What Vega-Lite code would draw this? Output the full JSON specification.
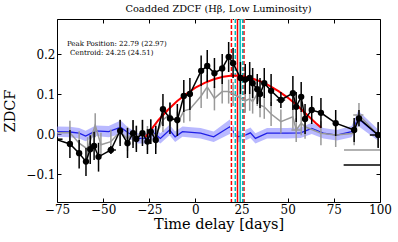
{
"$schema":"https://vega.github.io/schema/vega-lite/v6.json",
"width":323,"height":183,"autosize":"none",
"padding":{"left":57,"top":19,"right":18,"bottom":40},
"title":{"text":"Coadded ZDCF (Hβ, Low Luminosity)","font":"DejaVu Serif","fontSize":9.8,"fontWeight":"normal","color":"black","offset":4},
"config":{"view":{"stroke":"black","strokeWidth":1},
"scale":{"continuousPadding":0},
"axis":{"labelFont":"DejaVu Serif","titleFont":"DejaVu Serif","labelFontSize":12,"titleFontSize":14.5,"titleFontWeight":"normal","labelColor":"black","titleColor":"black","tickColor":"black","grid":false,"domain":false,"tickSize":-4,"tickWidth":1,"labelFlush":false,"labelOverlap":false}},
"datasets":{
"black":[
{"t":-76,"z":-0.013,"lo":-0.045,"hi":0.02},{"t":-68,"z":-0.025,"lo":-0.06,"hi":0.01},{"t":-63,"z":-0.048,"lo":-0.086,"hi":-0.015},{"t":-59.3,"z":-0.069,"lo":-0.105,"hi":-0.035},{"t":-57,"z":-0.038,"lo":-0.075,"hi":-0.003},{"t":-54.9,"z":-0.03,"lo":-0.065,"hi":0.005},{"t":-52.5,"z":-0.057,"lo":-0.094,"hi":-0.022},{"t":-45.8,"z":-0.04,"lo":-0.05,"hi":-0.03},{"t":-40.8,"z":0.008,"lo":-0.03,"hi":0.035},{"t":-36.8,"z":-0.023,"lo":-0.06,"hi":0.015},{"t":-33.8,"z":0.002,"lo":-0.035,"hi":0.035},{"t":-32,"z":-0.0125,"lo":-0.045,"hi":0.02},{"t":-28.7,"z":0.002,"lo":-0.03,"hi":0.035},{"t":-26,"z":-0.019,"lo":-0.05,"hi":0.012},{"t":-24.2,"z":0.006,"lo":-0.025,"hi":0.037},{"t":-21.5,"z":-0.015,"lo":-0.05,"hi":0.02},{"t":-17.6,"z":0.062,"lo":0.02,"hi":0.1},{"t":-13.8,"z":0.039,"lo":0.0,"hi":0.078},{"t":-9.8,"z":0.035,"lo":-0.005,"hi":0.075},{"t":-6.3,"z":0.095,"lo":0.055,"hi":0.135},{"t":-3,"z":0.1,"lo":0.06,"hi":0.14},{"t":3.1,"z":0.158,"lo":0.12,"hi":0.196},{"t":6.4,"z":0.17,"lo":0.13,"hi":0.21},{"t":10.3,"z":0.152,"lo":0.115,"hi":0.19},{"t":14.5,"z":0.164,"lo":0.125,"hi":0.2},{"t":18,"z":0.193,"lo":0.155,"hi":0.23},{"t":20.4,"z":0.177,"lo":0.14,"hi":0.215},{"t":24.4,"z":0.14,"lo":0.1,"hi":0.18},{"t":27,"z":0.136,"lo":0.1,"hi":0.175},{"t":29.4,"z":0.14,"lo":0.1,"hi":0.18},{"t":31,"z":0.127,"lo":0.09,"hi":0.165},{"t":33.5,"z":0.112,"lo":0.075,"hi":0.15},{"t":35,"z":0.1,"lo":0.065,"hi":0.14},{"t":37.3,"z":0.127,"lo":0.09,"hi":0.165},{"t":41,"z":0.108,"lo":0.07,"hi":0.15},{"t":46.3,"z":0.085,"lo":0.065,"hi":0.105},{"t":52.8,"z":0.102,"lo":0.06,"hi":0.145},{"t":54.6,"z":0.068,"lo":0.03,"hi":0.105},{"t":57.3,"z":0.093,"lo":0.055,"hi":0.13},{"t":59.4,"z":0.0375,"lo":0.0,"hi":0.075},{"t":63,"z":0.06,"lo":0.025,"hi":0.095},{"t":68,"z":0.053,"lo":0.015,"hi":0.09},{"t":76,"z":0.027,"lo":-0.005,"hi":0.06},{"t":86,"z":0.01,"lo":-0.02,"hi":0.04},{"t":88.6,"z":0.039,"lo":0.02,"hi":0.06},{"t":99,"z":-0.0025,"lo":-0.035,"hi":0.03}],
"gray":[
{"t":-76,"z":0.003,"lo":-0.027,"hi":0.033},{"t":-68,"z":0.003,"lo":-0.027,"hi":0.033},{"t":-63,"z":-0.023,"lo":-0.053,"hi":0.007},{"t":-58.4,"z":-0.038,"lo":-0.068,"hi":-0.008},{"t":-54.3,"z":0.022,"lo":-0.008,"hi":0.052},{"t":-51.2,"z":-0.027,"lo":-0.057,"hi":0.003},{"t":-45.8,"z":-0.019,"lo":-0.049,"hi":0.011},{"t":-40.8,"z":0.006,"lo":-0.024,"hi":0.036},{"t":-36.8,"z":-0.012,"lo":-0.042,"hi":0.018},{"t":-33.8,"z":0.003,"lo":-0.027,"hi":0.033},{"t":-32,"z":-0.008,"lo":-0.038,"hi":0.022},{"t":-28.7,"z":0.006,"lo":-0.024,"hi":0.036},{"t":-26,"z":-0.01,"lo":-0.04,"hi":0.02},{"t":-24.2,"z":0.005,"lo":-0.025,"hi":0.035},{"t":-21.5,"z":-0.004,"lo":-0.034,"hi":0.026},{"t":-17.6,"z":0.035,"lo":0.005,"hi":0.065},{"t":-13.8,"z":0.05,"lo":0.02,"hi":0.08},{"t":-9.8,"z":0.026,"lo":-0.004,"hi":0.056},{"t":-6.3,"z":0.058,"lo":0.028,"hi":0.088},{"t":-3,"z":0.062,"lo":0.032,"hi":0.092},{"t":3.1,"z":0.095,"lo":0.065,"hi":0.125},{"t":6.4,"z":0.118,"lo":0.088,"hi":0.148},{"t":10.3,"z":0.089,"lo":0.059,"hi":0.119},{"t":14.5,"z":0.106,"lo":0.076,"hi":0.136},{"t":18,"z":0.106,"lo":0.076,"hi":0.136},{"t":20.4,"z":0.1,"lo":0.07,"hi":0.13},{"t":24.4,"z":0.09,"lo":0.06,"hi":0.12},{"t":27,"z":0.083,"lo":0.053,"hi":0.113},{"t":29.4,"z":0.088,"lo":0.058,"hi":0.118},{"t":31,"z":0.081,"lo":0.051,"hi":0.111},{"t":33.5,"z":0.1,"lo":0.07,"hi":0.13},{"t":35,"z":0.072,"lo":0.042,"hi":0.102},{"t":37.3,"z":0.068,"lo":0.038,"hi":0.098},{"t":41,"z":0.05,"lo":0.02,"hi":0.08},{"t":46.3,"z":0.031,"lo":0.001,"hi":0.061},{"t":52.8,"z":0.043,"lo":0.013,"hi":0.073},{"t":54.6,"z":0.01,"lo":-0.02,"hi":0.04},{"t":57.3,"z":0.027,"lo":-0.003,"hi":0.057},{"t":59.4,"z":0.018,"lo":-0.012,"hi":0.048},{"t":68,"z":0.002,"lo":-0.028,"hi":0.032},{"t":76,"z":-0.0025,"lo":-0.0325,"hi":0.0275},{"t":86,"z":0.002,"lo":-0.028,"hi":0.032},{"t":88.6,"z":0.0475,"lo":0.0175,"hi":0.0775},{"t":99,"z":-0.0025,"lo":-0.0325,"hi":0.0275}],
"blue":[
{"t":-76,"z":0.006,"lo":-0.007,"hi":0.019},{"t":-68,"z":0.005,"lo":-0.008,"hi":0.018},{"t":-63,"z":0.002,"lo":-0.011,"hi":0.015},{"t":-59.5,"z":-0.005,"lo":-0.018,"hi":0.008},{"t":-54,"z":0.008,"lo":-0.005,"hi":0.021},{"t":-47,"z":0.006,"lo":-0.008,"hi":0.02},{"t":-40.5,"z":0.017,"lo":0.0,"hi":0.034},{"t":-36.5,"z":0.003,"lo":-0.01,"hi":0.016},{"t":-31,"z":-0.011,"lo":-0.024,"hi":0.002},{"t":-26,"z":-0.011,"lo":-0.024,"hi":0.002},{"t":-22.5,"z":0.002,"lo":-0.011,"hi":0.015},{"t":-19,"z":-0.011,"lo":-0.024,"hi":0.002},{"t":-14,"z":0.01,"lo":-0.003,"hi":0.023},{"t":-11,"z":-0.007,"lo":-0.02,"hi":0.006},{"t":-7,"z":0.006,"lo":-0.007,"hi":0.019},{"t":2.8,"z":0.002,"lo":-0.011,"hi":0.015},{"t":9.9,"z":-0.007,"lo":-0.02,"hi":0.006},{"t":18.6,"z":0.018,"lo":0.0,"hi":0.036},{"t":22.6,"z":-0.007,"lo":-0.021,"hi":0.007},{"t":27,"z":-0.003,"lo":-0.016,"hi":0.01},{"t":29.8,"z":0.003,"lo":-0.01,"hi":0.016},{"t":32.5,"z":-0.011,"lo":-0.024,"hi":0.002},{"t":38.8,"z":0.002,"lo":-0.011,"hi":0.015},{"t":49.6,"z":0.002,"lo":-0.011,"hi":0.015},{"t":57,"z":0.003,"lo":-0.01,"hi":0.016},{"t":63,"z":0.014,"lo":0.0,"hi":0.028},{"t":69.3,"z":0.002,"lo":-0.011,"hi":0.015},{"t":76.6,"z":-0.003,"lo":-0.016,"hi":0.01},{"t":84.6,"z":0.006,"lo":-0.008,"hi":0.02},{"t":88.2,"z":0.039,"lo":0.02,"hi":0.058},{"t":99,"z":-0.003,"lo":-0.017,"hi":0.011}],
"red":[
{"t":-27,"z":-0.007},{"t":-20,"z":0.035},{"t":-15,"z":0.06},{"t":-10,"z":0.082},{"t":-5,"z":0.1},{"t":0,"z":0.116},{"t":5,"z":0.128},{"t":10,"z":0.137},{"t":15,"z":0.143},{"t":20,"z":0.146},{"t":25,"z":0.145},{"t":30,"z":0.14},{"t":35,"z":0.132},{"t":40,"z":0.121},{"t":45,"z":0.107},{"t":50,"z":0.091},{"t":55,"z":0.072},{"t":60,"z":0.05},{"t":65,"z":0.028},{"t":68,"z":0.016}],
"xerrk":[
{"t0":-80,"t1":-72,"z":-0.013},{"t0":-47.6,"t1":-43.1,"z":-0.04},{"t0":44,"t1":48.6,"z":0.085},{"t0":94.5,"t1":104,"z":-0.0025},{"t0":80.3,"t1":104,"z":-0.0775}],
"xerrg":[
{"t0":80.5,"t1":104,"z":-0.04},{"t0":85.5,"t1":91,"z":0.0475},{"t0":52,"t1":57,"z":0.01}],
"vdash":[{"t":19.5,"k":"peak"},{"t":26.3,"k":"peak"},{"t":21.6,"k":"centroid"},{"t":25.6,"k":"centroid"}],
"vsolid":[{"t":22.79,"k":"peak"},{"t":24.25,"k":"centroid"}],
"notes":[{"t":-69.6,"z":0.225,"label":"Peak Position: 22.79 (22.97)"},{"t":-68,"z":0.2025,"label":"Centroid: 24.25 (24.51)"}]
},
"layer":[
{"data":{"name":"blue"},"mark":{"type":"area","color":"#7f7fff","opacity":0.55,"clip":true},
 "encoding":{"x":{"field":"t","type":"quantitative","scale":{"domain":[-75,100],"nice":false,"zero":false,"padding":0},
  "axis":{"orient":"bottom","values":[-75,-50,-25,0,25,50,75,100],"format":"d","title":"Time delay [days]","labelPadding":6,"titlePadding":2}},
  "y":{"field":"lo","type":"quantitative","scale":{"domain":[-0.17,0.2875],"nice":false,"zero":false,"padding":0},
  "axis":{"orient":"left","values":[-0.1,0,0.1,0.2],"format":".1f","title":"ZDCF","labelPadding":6,"titlePadding":8}},
  "y2":{"field":"hi"}}},
{"data":{"name":"blue"},"mark":{"type":"line","color":"#1f1fe6","strokeWidth":1.3,"clip":true},
 "encoding":{"x":{"field":"t","type":"quantitative","scale":{"domain":[-75,100],"nice":false,"zero":false,"padding":0},
  "axis":{"orient":"top","values":[-75,-50,-25,0,25,50,75,100],"labels":false,"title":null}},
  "y":{"field":"z","type":"quantitative","scale":{"domain":[-0.17,0.2875],"nice":false,"zero":false,"padding":0},
  "axis":{"orient":"right","values":[-0.1,0,0.1,0.2],"labels":false,"title":null}}}},
{"data":{"name":"vdash"},"mark":{"type":"rule","color":"white","strokeWidth":2.5},
 "encoding":{"x":{"field":"t","type":"quantitative","scale":{"domain":[-75,100],"nice":false,"zero":false,"padding":0},"axis":null}}},
{"data":{"name":"vdash"},"mark":{"type":"rule","strokeWidth":1.5,"strokeDash":[4,2]},
 "encoding":{"x":{"field":"t","type":"quantitative","scale":{"domain":[-75,100],"nice":false,"zero":false,"padding":0},"axis":null},
  "color":{"field":"k","type":"nominal","scale":{"domain":["peak","centroid"],"range":["#ff0000","#00bfbf"]},"legend":null}}},
{"data":{"name":"vsolid"},"mark":{"type":"rule","strokeWidth":1.5},
 "encoding":{"x":{"field":"t","type":"quantitative","scale":{"domain":[-75,100],"nice":false,"zero":false,"padding":0},"axis":null},
  "color":{"field":"k","type":"nominal","scale":{"domain":["peak","centroid"],"range":["#ff0000","#00bfbf"]},"legend":null}}},
{"data":{"name":"gray"},"mark":{"type":"rule","color":"#999999","strokeWidth":1.5,"clip":true},
 "encoding":{"x":{"field":"t","type":"quantitative","scale":{"domain":[-75,100],"nice":false,"zero":false,"padding":0},"axis":null},
  "y":{"field":"lo","type":"quantitative","scale":{"domain":[-0.17,0.2875],"nice":false,"zero":false,"padding":0},"axis":null},"y2":{"field":"hi"}}},
{"data":{"name":"xerrg"},"mark":{"type":"rule","color":"#999999","strokeWidth":1.5,"clip":true},
 "encoding":{"x":{"field":"t0","type":"quantitative","scale":{"domain":[-75,100],"nice":false,"zero":false,"padding":0},"axis":null},"x2":{"field":"t1"},
  "y":{"field":"z","type":"quantitative","scale":{"domain":[-0.17,0.2875],"nice":false,"zero":false,"padding":0},"axis":null}}},
{"data":{"name":"gray"},"mark":{"type":"line","color":"#999999","strokeWidth":1.5,"clip":true},
 "encoding":{"x":{"field":"t","type":"quantitative","scale":{"domain":[-75,100],"nice":false,"zero":false,"padding":0},"axis":null},
  "y":{"field":"z","type":"quantitative","scale":{"domain":[-0.17,0.2875],"nice":false,"zero":false,"padding":0},"axis":null}}},
{"data":{"name":"red"},"mark":{"type":"line","color":"#ff0000","strokeWidth":2,"clip":true},
 "encoding":{"x":{"field":"t","type":"quantitative","scale":{"domain":[-75,100],"nice":false,"zero":false,"padding":0},"axis":null},
  "y":{"field":"z","type":"quantitative","scale":{"domain":[-0.17,0.2875],"nice":false,"zero":false,"padding":0},"axis":null}}},
{"data":{"name":"black"},"mark":{"type":"rule","color":"black","strokeWidth":1.5,"clip":true},
 "encoding":{"x":{"field":"t","type":"quantitative","scale":{"domain":[-75,100],"nice":false,"zero":false,"padding":0},"axis":null},
  "y":{"field":"lo","type":"quantitative","scale":{"domain":[-0.17,0.2875],"nice":false,"zero":false,"padding":0},"axis":null},"y2":{"field":"hi"}}},
{"data":{"name":"xerrk"},"mark":{"type":"rule","color":"black","strokeWidth":1.5,"clip":true},
 "encoding":{"x":{"field":"t0","type":"quantitative","scale":{"domain":[-75,100],"nice":false,"zero":false,"padding":0},"axis":null},"x2":{"field":"t1"},
  "y":{"field":"z","type":"quantitative","scale":{"domain":[-0.17,0.2875],"nice":false,"zero":false,"padding":0},"axis":null}}},
{"data":{"name":"black"},"mark":{"type":"line","color":"black","strokeWidth":1.5,"clip":true,"point":{"filled":true,"color":"black","size":40}},
 "encoding":{"x":{"field":"t","type":"quantitative","scale":{"domain":[-75,100],"nice":false,"zero":false,"padding":0},"axis":null},
  "y":{"field":"z","type":"quantitative","scale":{"domain":[-0.17,0.2875],"nice":false,"zero":false,"padding":0},"axis":null}}},
{"data":{"name":"notes"},"mark":{"type":"text","align":"left","baseline":"middle","font":"DejaVu Serif","fontSize":7,"color":"black"},
 "encoding":{"x":{"field":"t","type":"quantitative","scale":{"domain":[-75,100],"nice":false,"zero":false,"padding":0},"axis":null},
  "y":{"field":"z","type":"quantitative","scale":{"domain":[-0.17,0.2875],"nice":false,"zero":false,"padding":0},"axis":null},
  "text":{"field":"label"}}}
],
"resolve":{"axis":{"x":"independent","y":"independent"}}
}
